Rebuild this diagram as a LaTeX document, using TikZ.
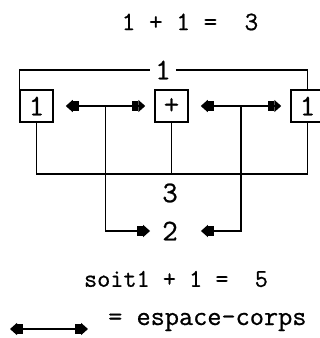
\documentclass[tikz,border=0pt]{standalone}
\usepackage{fontspec}
\setmonofont[FakeBold=0.7]{Latin Modern Mono}
\usetikzlibrary{arrows.meta}
\tikzset{
	trait/.style={line width=1.5pt},
	boite/.style={draw,line width=1.5pt,minimum width=33pt,minimum height=32pt,inner sep=0pt,font=\ttfamily\fontsize{30}{30}\selectfont},
	txt/.style={inner sep=0pt,font=\ttfamily\fontsize{25.5}{25.5}\selectfont},
	chiffre/.style={inner sep=0pt,font=\ttfamily\fontsize{30}{30}\selectfont},
	fleche/.style={trait,-{Rectangle[length=6pt,width=10pt]Triangle[length=7pt,width=12pt]}},
	dfleche/.style={trait,{Triangle[length=7pt,width=12pt]Rectangle[length=6pt,width=10pt]}-{Rectangle[length=6pt,width=10pt]Triangle[length=7pt,width=12pt]}}
}
\begin{document}
\begin{tikzpicture}[x=1pt,y=-1pt]
	\useasboundingbox (0,0) rectangle (320,338);
	\node[txt,font=\ttfamily\fontsize{26.5}{26.5}\selectfont] (titre) at (190,22) {1 + 1 =\ \ 3};
	\node[boite] (gauche) at (36.5,106) {1};
	\node[boite] (milieu) at (171.5,106) {+};
	\node[boite] (droite) at (307.5,106) {1};
	\node[chiffre,inner sep=5pt] (un) at (163,70) {1};
	\draw[trait] (gauche.north west) |- (un.west);
	\draw[trait] (un.east) -| (droite.north);
	\coordinate (bas) at (171.5,174);
	\draw[trait] (gauche.south) |- (bas) -| (droite.south);
	\draw[trait] (milieu.south) -- (bas);
	\node[chiffre] (trois) at (170,193) {3};
	\node[chiffre] (deux) at (170,231) {2};
	\draw[dfleche] ([xshift=12pt]gauche.east) -- ([xshift=-9pt]milieu.west) coordinate[midway] (mg);
	\draw[dfleche] ([xshift=12pt]milieu.east) -- ([xshift=-9pt]droite.west) coordinate[midway] (md);
	\draw[fleche,shorten >=12pt] (mg) |- (deux.west);
	\draw[fleche,shorten >=23pt] (md) |- (deux.east);
	\node[txt] (soit) at (176,279) {soit1 + 1 =\ \ 5};
	\node[txt,font=\ttfamily\fontsize{27.5}{27.5}\selectfont,anchor=west] (legende) at (108,322) {= espace-corps};
	\coordinate (lg) at (10,329);
	\coordinate (ld) at (88,329);
	\draw[dfleche] (lg) -- (ld);
\end{tikzpicture}
\end{document}
